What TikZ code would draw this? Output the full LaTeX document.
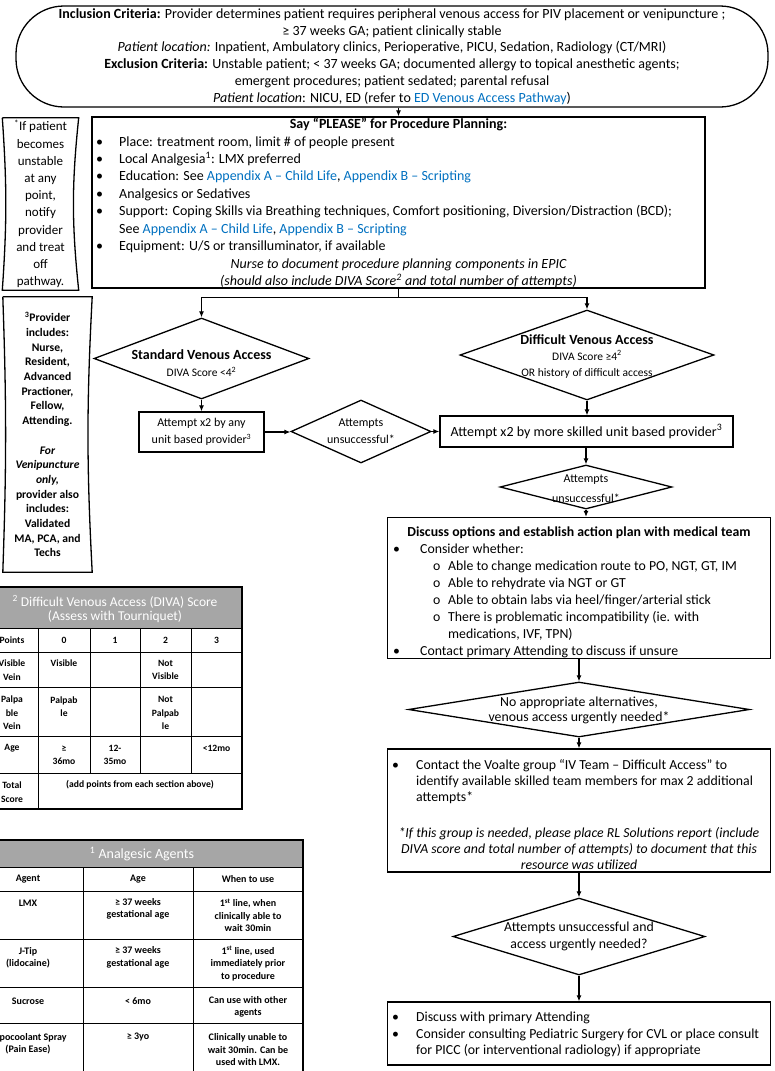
\documentclass[tikz,border=0pt]{standalone}
\usepackage{fontspec}
\setmainfont{Carlito}
\usetikzlibrary{positioning,arrows.meta,calc,shapes.geometric}
\definecolor{pwBlue}{RGB}{0,112,192}
\definecolor{pwGray}{RGB}{166,166,166}
\newcommand{\lnk}[1]{\textcolor{pwBlue}{#1}}
\newcommand{\bul}[1][23pt]{\makebox[#1][l]{\textbullet}}
\newcommand{\subbul}{\hspace*{40pt}\makebox[15pt][l]{o}}
\tikzset{
  box/.style={draw, line width=1.3pt, rectangle, inner sep=0pt},
  dia/.style={draw, line width=1.3pt, diamond, inner sep=0pt},
  txt/.style={align=center, inner sep=0pt},
  arr/.style={-{Latex[length=6pt,width=5pt]}, line width=1.1pt},
  cell/.style={align=center, inner sep=0pt, font=\bfseries\fontsize{9.6}{13.5}\selectfont},
  acell/.style={align=center, inner sep=0pt, font=\bfseries\fontsize{10}{12.5}\selectfont}
}

\begin{document}
\begin{tikzpicture}[x=1pt, y=-1pt]
  \useasboundingbox (0,0) rectangle (775,1071);
  \clip (0,0) rectangle (775,1071);

  % Criteria
  \node[box, rounded corners=48, minimum width=752, minimum height=101, align=center,
        font=\fontsize{14}{16.8}\selectfont] (crit) at (392,56.5)
    {\textbf{Inclusion Criteria:} Provider determines patient requires peripheral venous access for PIV placement or venipuncture ;\\
     ≥ 37 weeks GA; patient clinically stable\\
     \textit{Patient location:} Inpatient, Ambulatory clinics, Perioperative, PICU, Sedation, Radiology (CT/MRI)\\
     \textbf{Exclusion Criteria:} Unstable patient; < 37 weeks GA; documented allergy to topical anesthetic agents;\\
     emergent procedures; patient sedated; parental refusal\\
     \textit{Patient location}: NICU, ED (refer to \lnk{ED Venous Access Pathway})};

  % Procedure planning
  \node[box, minimum width=613, minimum height=171] (plan) at (398.5,202.5) {};
  \node[txt, font=\bfseries\fontsize{14}{17.4}\selectfont] (planT) at (398.5,125) {Say “PLEASE” for Procedure Planning:};
  \node[txt, align=left, anchor=west, font=\fontsize{14}{17.4}\selectfont] (planL) at (96,194.6)
    {\bul Place: treatment room, limit \# of people present\\
     \bul Local Analgesia\textsuperscript{1}: LMX preferred\\
     \bul Education: See \lnk{Appendix A – Child Life}, \lnk{Appendix B – Scripting}\\
     \bul Analgesics or Sedatives\\
     \bul Support: Coping Skills via Breathing techniques, Comfort positioning, Diversion/Distraction (BCD);\\
     \hspace*{23pt}See \lnk{Appendix A – Child Life}, \lnk{Appendix B – Scripting}\\
     \bul Equipment: U/S or transilluminator, if available};
  \node[txt, font=\itshape\fontsize{14}{17.4}\selectfont] (planN) at (398.5,273)
    {Nurse to document procedure planning components in EPIC\\
     (should also include DIVA Score\textsuperscript{2} and total number of attempts)};

  % Side notes
  \node[txt, minimum width=76, minimum height=172, font=\fontsize{13}{17.2}\selectfont] (unst) at (40.5,204)
    {\textsuperscript{*}If patient\\becomes\\unstable\\at any\\point,\\notify\\provider\\and treat\\off\\pathway.};
  \draw[line width=1.3pt] (unst.north west) -- (unst.north east) to[bend right=6] (unst.south east)
    -- (unst.south west) to[bend right=4] (unst.north west);
  \node[txt, minimum width=89, minimum height=275, font=\bfseries\fontsize{11.6}{14.7}\selectfont] (prov) at (47.5,434.5)
    {\textsuperscript{3}Provider\\includes:\\Nurse,\\Resident,\\Advanced\\Practioner,\\Fellow,\\Attending.\\\mbox{}\\
     \textit{For}\\\textit{Venipuncture}\\\textit{only,}\\provider also\\includes:\\Validated\\MA, PCA, and\\Techs};
  \draw[line width=1.3pt] (prov.north west) -- (prov.north east) to[bend right=3] (prov.south east)
    -- (prov.south west) to[bend right=2] (prov.north west);

  % Standard branch
  \node[dia, minimum width=215, minimum height=81] (std) at (201.5,358.5) {};
  \node[txt, font=\fontsize{11.5}{17}\selectfont] (stdT) at (201.5,363)
    {{\bfseries\fontsize{14}{17}\selectfont Standard Venous Access}\\DIVA Score <4\textsuperscript{2}};
  \node[box, minimum width=125, minimum height=40, align=center, font=\fontsize{12}{17}\selectfont] (anyp) at (201.5,432)
    {Attempt x2 by any\\unit based provider\textsuperscript{3}};
  \node[dia, minimum width=140, minimum height=63] (att1) at (361,431.5) {};
  \node[txt, font=\fontsize{12}{17}\selectfont] (att1T) at (361,431.5) {Attempts\\unsuccessful*};

  % Difficult branch
  \node[dia, minimum width=254, minimum height=90] (dva) at (587,355) {};
  \node[txt, font=\fontsize{11.5}{16}\selectfont] (dvaT) at (587,356)
    {{\bfseries\fontsize{14}{16}\selectfont Difficult Venous Access}\\DIVA Score ≥4\textsuperscript{2}\\OR history of difficult access};
  \node[box, minimum width=293, minimum height=31, font=\fontsize{14}{14}\selectfont] (skill) at (586.5,431.5)
    {Attempt x2 by more skilled unit based provider\textsuperscript{3}};
  \node[dia, minimum width=172, minimum height=44] (att2) at (586,487) {};
  \node[txt, font=\fontsize{12}{20}\selectfont] (att2T) at (586,489) {Attempts\\unsuccessful*};

  % Action plan
  \node[box, minimum width=383, minimum height=141] (disc) at (579,588) {};
  \node[txt, font=\bfseries\fontsize{13.8}{16.8}\selectfont] (discT) at (579,533)
    {Discuss options and establish action plan with medical team};
  \node[txt, align=left, anchor=west, font=\fontsize{13.8}{17}\selectfont] (discL) at (393,601)
    {\bul[27pt]Consider whether:\\
     \subbul Able to change medication route to PO, NGT, GT, IM\\
     \subbul Able to rehydrate via NGT or GT\\
     \subbul Able to obtain labs via heel/finger/arterial stick\\
     \subbul There is problematic incompatibility (ie. with\\
     \hspace*{55pt}medications, IVF, TPN)\\
     \bul[27pt]Contact primary Attending to discuss if unsure};

  \node[dia, minimum width=341, minimum height=55] (noalt) at (579,709.5) {};
  \node[txt, font=\fontsize{13.8}{15}\selectfont] (noaltT) at (579,710)
    {No appropriate alternatives,\\venous access urgently needed*};

  % IV team
  \node[box, minimum width=383, minimum height=123] (voalte) at (579,810.5) {};
  \node[txt, align=left, anchor=west, font=\fontsize{13.8}{16}\selectfont] (voalteL) at (392,782)
    {\bul[24pt]Contact the Voalte group “IV Team – Difficult Access” to\\
     \hspace*{24pt}identify available skilled team members for max 2 additional\\
     \hspace*{24pt}attempts*};
  \node[txt, font=\itshape\fontsize{13.8}{16}\selectfont] (voalteN) at (579,849)
    {*If this group is needed, please place RL Solutions report (include\\
     DIVA score and total number of attempts) to document that this\\
     resource was utilized};

  \node[dia, minimum width=252, minimum height=77] (att3) at (579,936.5) {};
  \node[txt, font=\fontsize{13.8}{17}\selectfont] (att3T) at (579,936.5)
    {Attempts unsuccessful and\\access urgently needed?};

  \node[box, minimum width=383, minimum height=63] (final) at (579,1033.5) {};
  \node[txt, align=left, anchor=west, font=\fontsize{13.8}{16.5}\selectfont] (finalL) at (392,1034.5)
    {\bul[24pt]Discuss with primary Attending\\
     \bul[24pt]Consider consulting Pediatric Surgery for CVL or place consult\\
     \hspace*{24pt}for PICC (or interventional radiology) if appropriate};

  % Connectors
  \draw[arr] (crit.south -| plan.north) -- (plan.north);
  \coordinate (fork) at ($(plan.south)+(0,9)$);
  \draw[arr] (plan.south) -- (fork) -| (std.north);
  \draw[arr] (fork) -| (dva.north);
  \draw[arr] (std.south) -- (anyp.north);
  \draw[arr] (anyp.east) -- (anyp.east -| att1.west);
  \draw[arr] (att1.east) -- (att1.east -| skill.west);
  \draw[arr] (dva.south) -- (dva.south |- skill.north);
  \draw[arr] (skill.south -| att2.north) -- (att2.north);
  \draw[arr] (att2.south) -- (att2.south |- disc.north);
  \draw[arr] (disc.south) -- (noalt.north);
  \draw[arr] (noalt.south) -- (voalte.north);
  \draw[arr] (voalte.south) -- (att3.north);
  \draw[arr] (att3.south) -- (final.north);

  % DIVA score table
  \fill[pwGray] (-12,587) rectangle (242,628);
  \node[txt, text=white, font=\fontsize{13.5}{14}\selectfont] (divaH) at (115,609)
    {\textsuperscript{2} Difficult Venous Access (DIVA) Score\\(Assess with Tourniquet)};
  \foreach \y in {628,652,687,736,773}
    \draw[line width=0.9pt] (-12,\y) -- (242,\y);
  \draw[line width=0.9pt] (38,628) -- (38,809);
  \foreach \x in {90,140,191}
    \draw[line width=0.9pt] (\x,628) -- (\x,773);
  \draw[line width=1.2pt] (-12,587) rectangle (242,809);
  \foreach \x/\y/\t [count=\i] in {12/640/Points, 64/640/0, 115/640/1, 165.5/640/2, 216.5/640/3,
      12/670/{Visible\\Vein}, 64/663/Visible, 165.5/670/{Not\\Visible},
      12/713/{Palpa\\ble\\Vein}, 64/706.5/{Palpab\\le}, 165.5/713/{Not\\Palpab\\le},
      12/748/Age, 64/755/{≥\\36mo}, 115/755/{12-\\35mo}, 216.5/748/<12mo,
      12/792/{Total\\Score}, 140/785/{(add points from each section above)}}
    \node[cell] (diva\i) at (\x,\y) {\t};

  % Analgesic table
  \fill[pwGray] (-27,840) rectangle (303,867);
  \node[txt, text=white, font=\fontsize{14}{14}\selectfont] (agentH) at (142,854) {\textsuperscript{1} Analgesic Agents};
  \foreach \y in {867,891,939,987,1023}
    \draw[line width=0.9pt] (-27,\y) -- (303,\y);
  \foreach \x in {83,193}
    \draw[line width=0.9pt] (\x,867) -- (\x,1080);
  \draw[line width=1.2pt] (-27,840) rectangle (303,1080);
  \foreach \x/\y/\t [count=\i] in {28/879/Agent, 138/879/Age, 248/879/When to use,
      28/903/LMX, 138/909/{≥ 37 weeks\\gestational age}, 248/915.5/{1\textsuperscript{st} line, when\\clinically able to\\wait 30min},
      28/957.5/{J-Tip\\(lidocaine)}, 138/957.5/{≥ 37 weeks\\gestational age}, 248/963.5/{1\textsuperscript{st} line, used\\immediately prior\\to procedure},
      28/1001/Sucrose, 138/1001/{< 6mo}, 248/1007/{Can use with other\\agents},
      28/1043.5/{Vapocoolant Spray\\(Pain Ease)}, 138/1037/{≥ 3yo}, 248/1050/{Clinically unable to\\wait 30min. Can be\\used with LMX.}}
    \node[acell] (agent\i) at (\x,\y) {\t};
\end{tikzpicture}
\end{document}
